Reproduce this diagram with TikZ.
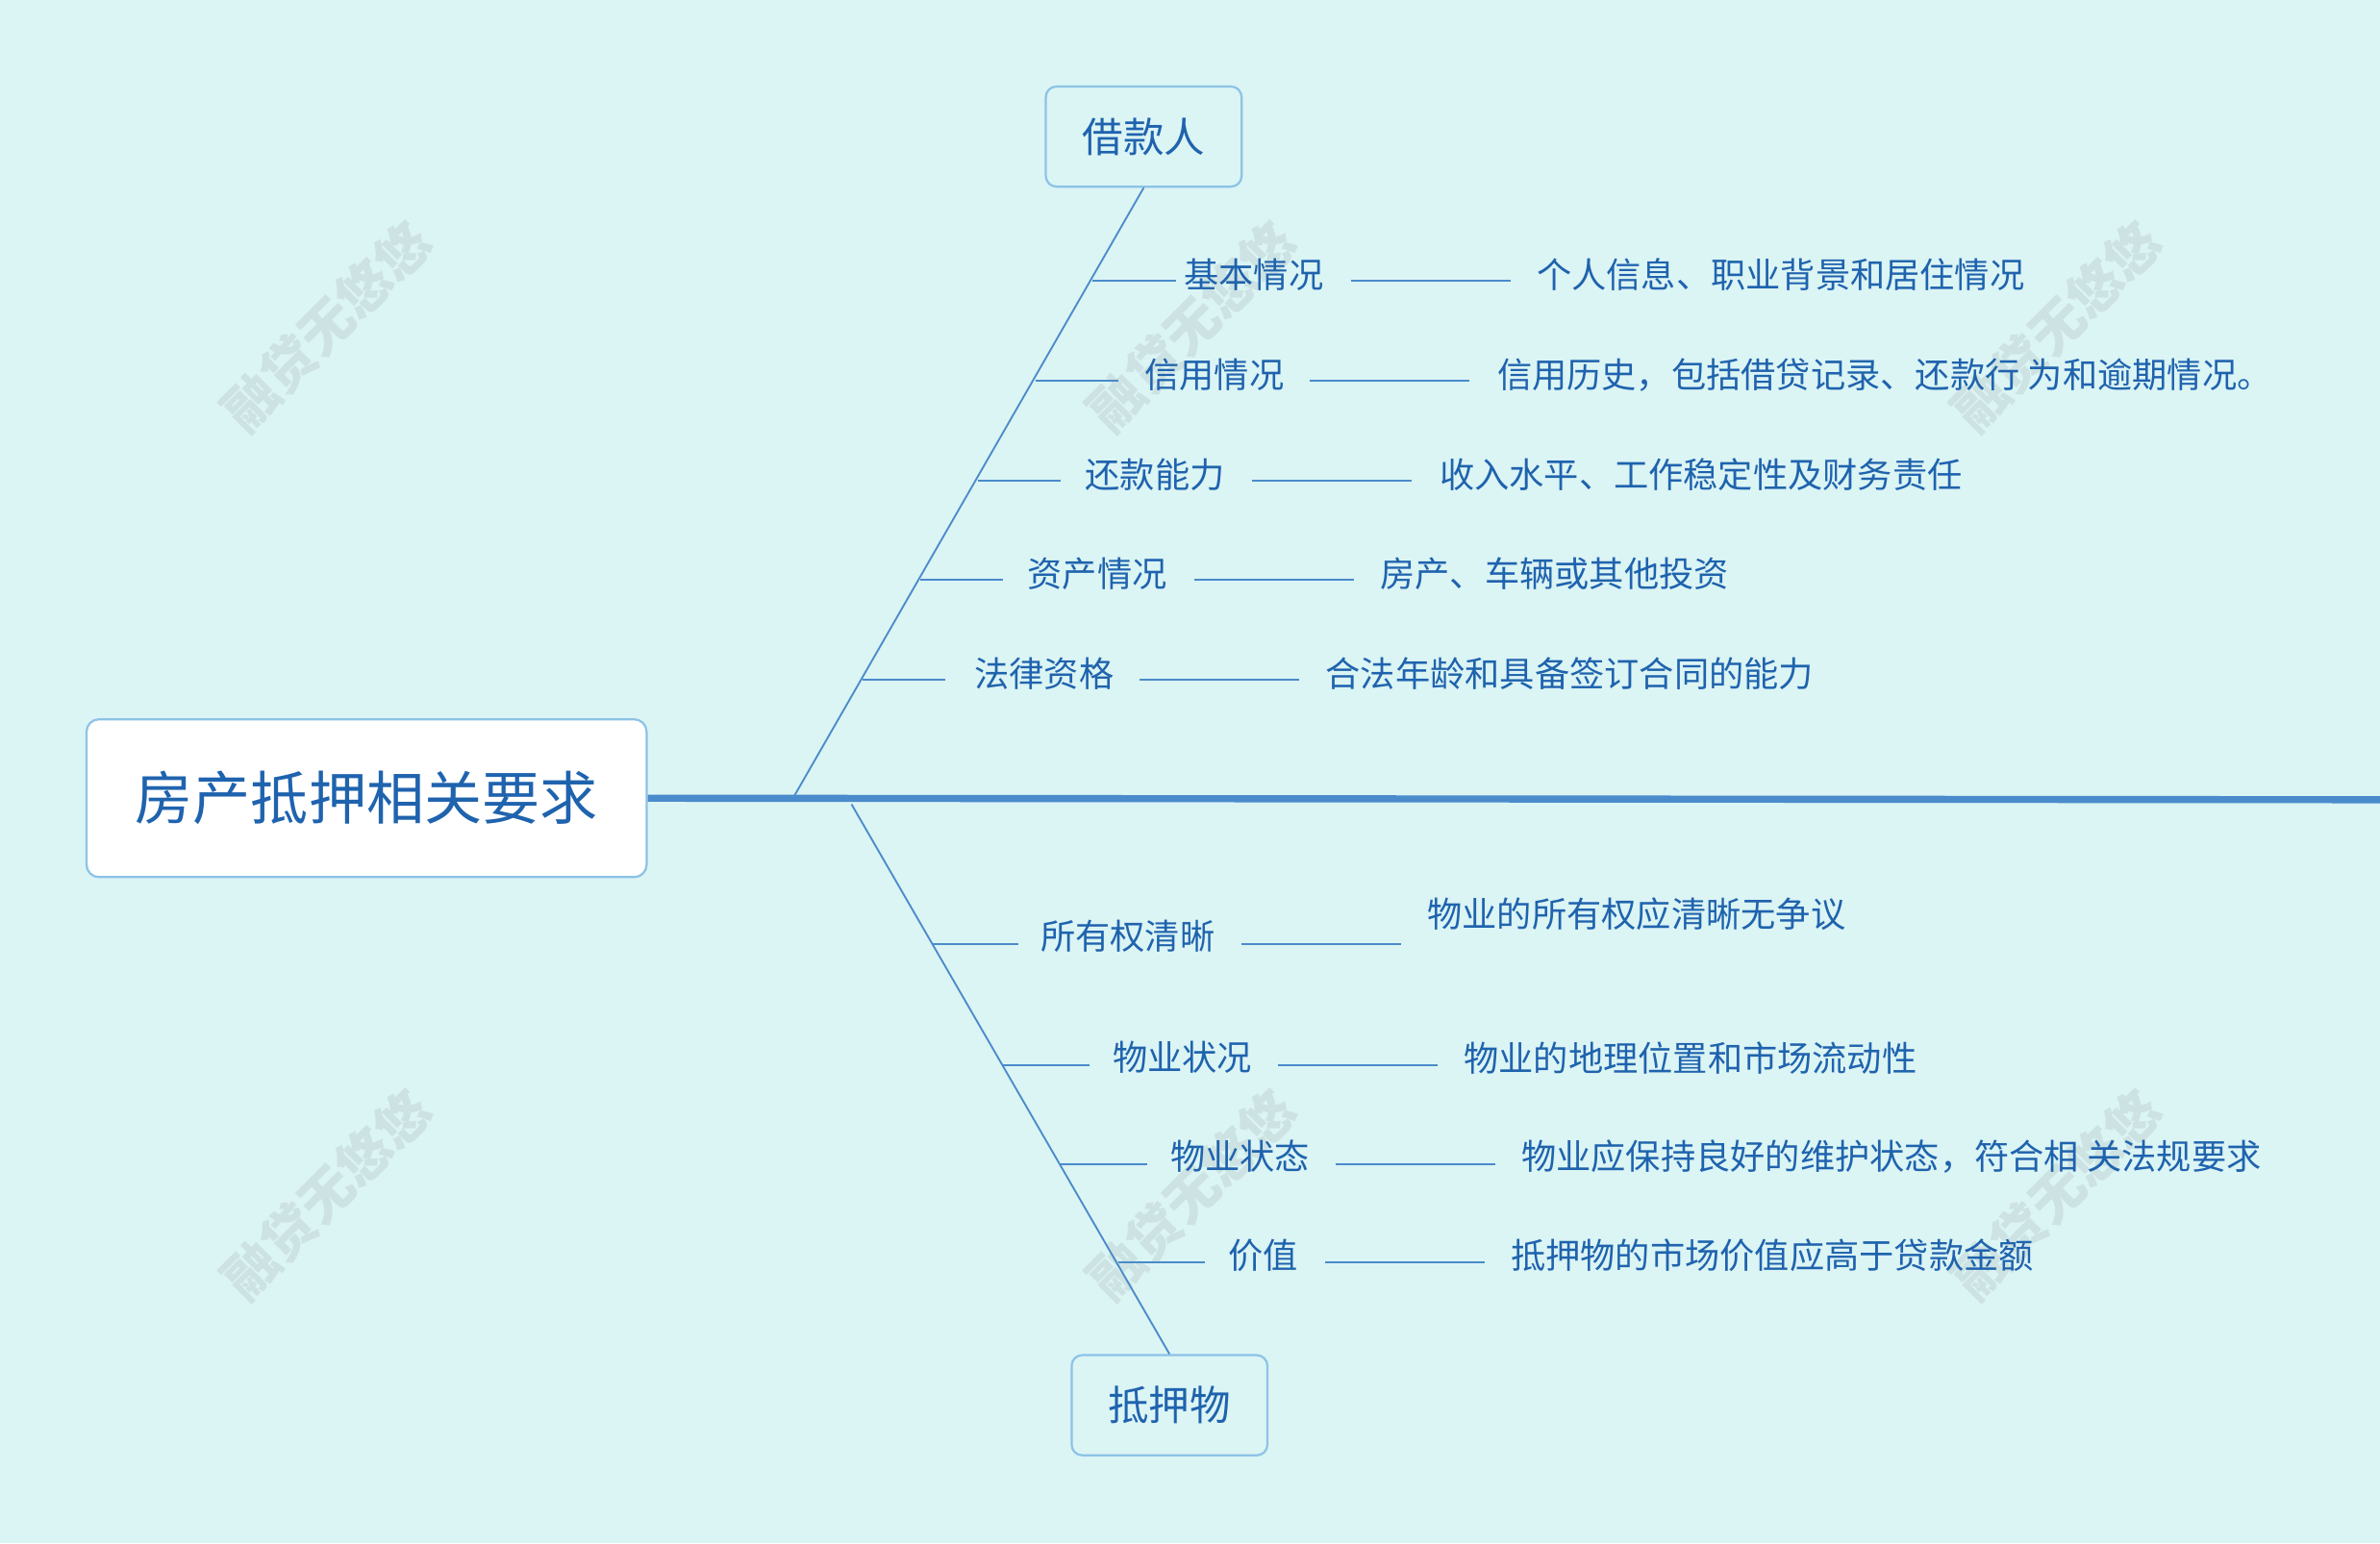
\documentclass[tikz,border=0pt]{standalone}
\usepackage{fontspec}
\newfontfamily\cjk{Noto Sans CJK SC}
\usetikzlibrary{positioning}
\definecolor{bgc}{HTML}{DBF4F4}
\definecolor{txtc}{HTML}{1F63AE}
\definecolor{linec}{HTML}{4A8BCB}
\definecolor{boxc}{HTML}{8CC3E6}
\begin{document}
\begin{tikzpicture}[
        x=0.03cm, y=-0.03cm,
        font=\cjk,
        topic/.style={draw=boxc, line width=1.2pt, rounded corners=6pt, fill=bgc, text=txtc, font=\cjk\fontsize{23}{27}\selectfont, minimum width=3.87cm, minimum height=1.98cm},
        root/.style={draw=boxc, line width=1.2pt, rounded corners=7pt, fill=white, text=txtc, font=\cjk\fontsize{32.5}{38}\selectfont, minimum width=11.07cm, minimum height=3.12cm},
        lbl/.style={text=txtc, font=\cjk\fontsize{19.6}{23}\selectfont, inner sep=1pt},
        bone/.style={draw=linec, line width=1pt},
        wmark/.style={text=gray, opacity=0.15, rotate=45, font=\cjk\bfseries\fontsize{30}{34}\selectfont},
    ]
    \fill[bgc] (0,0) rectangle (1568,1017);
    \useasboundingbox (0,0) rectangle (1568,1017);

    % watermarks
    \foreach \wx/\wy in {215/215, 785/215, 1355/215, 215/787, 785/787, 1355/787}
        \node[wmark] at (\wx,\wy) {融贷无悠悠};

    % spine and bones
    \node[root] (root) at (241.5,526) {房产抵押相关要求};
    \coordinate (end) at (1568,527);
    \draw[linec, line width=4pt] (root.east) -- (end);
    \node[topic] (borrower) at (753.5,90) {借款人};
    \node[topic] (pledge) at (770.5,926) {抵押物};
    \coordinate (ub) at (523,525);
    \coordinate (lb) at (561,530);
    \draw[bone] (ub) -- (borrower.south);
    \draw[bone] (lb) -- (pledge.north);

    % upper branches
    \foreach \i/\bx/\y/\lx/\ax/\dx/\name/\info in {
        1/720/185/826/890/1011/基本情况/个人信息、职业背景和居住情况,
        2/682/251/800/863/985/信用情况/信用历史，包括借贷记录、还款行 为和逾期情况。,
        3/644/317/761/825/947/还款能力/收入水平、工作稳定性及财务责任,
        4/606/382/723/787/908/资产情况/房产、车辆或其他投资,
        5/568/448/688/751/872/法律资格/合法年龄和具备签订合同的能力} {
        \coordinate (u\i) at (\bx,\y);
        \node[lbl] (ul\i) at (\lx,\y-4) {\name};
        \node[lbl, anchor=west] (ud\i) at (\dx,\y-4) {\info};
        \draw[bone] (u\i) -- ++(55,0);
        \draw[bone] (\ax,\y) -- ++(105,0);
    }

    % lower branches
    \foreach \i/\bx/\y/\lx/\ly/\ax/\dx/\dy/\name/\info in {
        1/614/622/743/617/818/939/602/所有权清晰/物业的所有权应清晰无争议,
        2/661/702/779/697/842/963/697/物业状况/物业的地理位置和市场流动性,
        3/699/767/817/762/880/1001/762/物业状态/物业应保持良好的维护状态，符合相 关法规要求,
        4/737/832/832/827/873/994/827/价值/抵押物的市场价值应高于贷款金额} {
        \coordinate (l\i) at (\bx,\y);
        \node[lbl] (ll\i) at (\lx,\ly) {\name};
        \node[lbl, anchor=west] (ld\i) at (\dx,\dy) {\info};
        \draw[bone] (l\i) -- ++(57,0);
        \draw[bone] (\ax,\y) -- ++(105,0);
    }
\end{tikzpicture}
\end{document}
